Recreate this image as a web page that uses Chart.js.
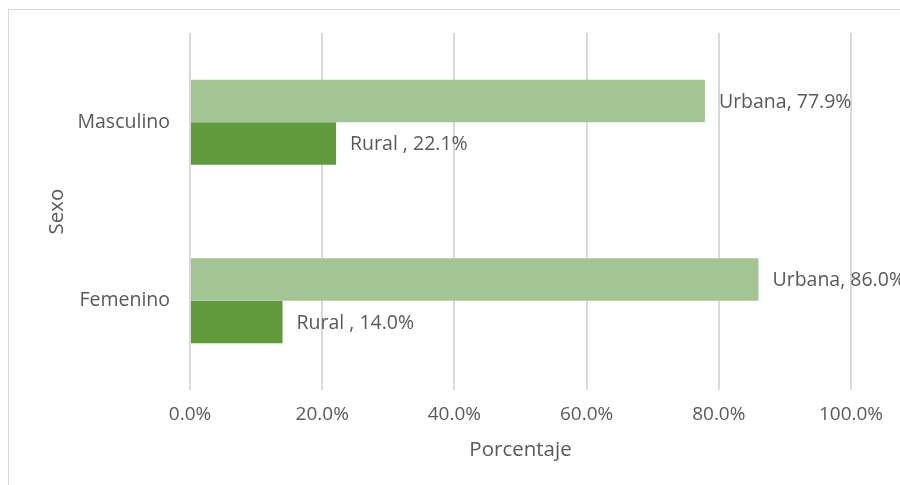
<!DOCTYPE html>
<html>
<head>
<meta charset="utf-8">
<script src="https://cdn.jsdelivr.net/npm/chart.js@4.4.0/dist/chart.umd.min.js"></script>
<style>
	body { margin: 0; background: #fff; }
	#marco { position: absolute; left: 8px; top: 9px; width: 900px; height: 485px; border-left: 1px solid #d9d9d9; border-top: 1px solid #d9d9d9; }
	#contenedor { position: absolute; left: 0; top: 0; width: 900px; height: 485px; }
</style>
</head>
<body>
<div id="marco"></div>
<div id="contenedor"><canvas id="graficaSexo" width="900" height="485"></canvas></div>
<script>

	// Datos de la grafica
	const categorias = ['Masculino', 'Femenino'];
	const series = ['Urbana', 'Rural '];
	const valoresUrbana = [77.9, 86.0];
	const valoresRural = [22.1, 14.0];
	const ticksX = [0, 20, 40, 60, 80, 100];

	const colorTexto = '#595959';
	const fuente = "'Open Sans', sans-serif";
	const tamTexto = 19;
	const tamTitulo = 20.5;

	// Etiquetas al final de cada barra: "Serie, valor%"
	const etiquetasBarras = {
		id: 'etiquetasBarras',
		afterDatasetsDraw: function(chart){
			let ctx = chart.ctx;
			ctx.save();
			ctx.font = '19.5px ' + fuente;
			ctx.fillStyle = colorTexto;
			ctx.textAlign = 'left';
			ctx.textBaseline = 'middle';
			chart.data.datasets.forEach(function(dataset, i){
				let meta = chart.getDatasetMeta(i);
				meta.data.forEach(function(barra, j){
					let texto = dataset.label + ', ' + dataset.data[j].toFixed(1) + '%';
					ctx.fillText(texto, barra.x + 14, barra.y + 1);
				});
			});
			ctx.restore();
		}
	};

	document.addEventListener('DOMContentLoaded', function(){

		let canvas = document.getElementById('graficaSexo').getContext('2d');

		new Chart(canvas, {
			type: 'bar',
			data: {
				labels: categorias,
				datasets: [
					{
						label: series[0],
						data: valoresUrbana,
						backgroundColor: '#a3c593'
					},
					{
						label: series[1],
						data: valoresRural,
						backgroundColor: '#61993d'
					}
				]
			},
			options: {
				indexAxis: 'y',
				responsive: false,
				animation: false,
				layout: {
					padding: { left: 38, right: 49, top: 33, bottom: 20 }
				},
				datasets: {
					bar: { barPercentage: 1, categoryPercentage: 0.476 }
				},
				plugins: {
					legend: { display: false },
					tooltip: { enabled: false }
				},
				scales: {
					x: {
						min: 0,
						max: 100,
						afterBuildTicks: function(scale){
							scale.ticks = ticksX.map(function(v){ return { value: v }; });
						},
						afterFit: function(scale){ scale.height = 75; },
						border: { display: false },
						grid: { color: '#d9d9d9', lineWidth: 2, drawTicks: false },
						ticks: {
							padding: 13,
							color: colorTexto,
							font: { family: fuente, size: tamTexto },
							callback: function(v){ return v.toFixed(1) + '%'; }
						},
						title: {
							display: true,
							text: 'Porcentaje',
							color: colorTexto,
							font: { family: fuente, size: tamTitulo },
							padding: { top: 0, bottom: 3 }
						}
					},
					y: {
						afterFit: function(scale){ scale.width = 152; },
						border: { display: false },
						grid: { display: false, drawTicks: false },
						ticks: {
							padding: 20,
							color: colorTexto,
							font: { family: fuente, size: 19.5 }
						},
						title: {
							display: true,
							text: 'Sexo',
							color: colorTexto,
							font: { family: fuente, size: tamTitulo },
							padding: { top: 7, bottom: 0 }
						}
					}
				}
			},
			plugins: [etiquetasBarras]
		});

	});

</script>
</body>
</html>
